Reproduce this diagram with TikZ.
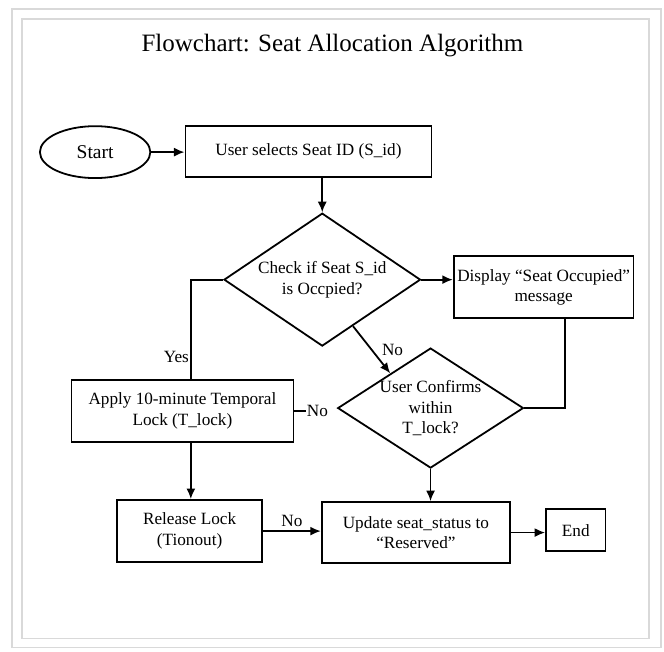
\documentclass[tikz,border=0pt]{standalone}
\usepackage{fontspec}
\setmainfont{Liberation Serif}
\usepackage{tikz}
\usetikzlibrary{arrows.meta}
\usetikzlibrary{shapes}
\usetikzlibrary{calc}
\newcommand{\flowfont}{\fontsize{16.3}{19.4}\selectfont}
\newcommand{\headfont}{\fontsize{23.7}{28}\selectfont}

\begin{document}
\begin{tikzpicture}[scale = 1,
  box/.style = {rectangle, line width=1.7pt, draw, align=center, font=\flowfont},
  decision/.style = {diamond, line width=1.7pt, draw, align=center, inner sep=-0.2cm, font=\flowfont},
  arr/.style = {line width=1.7pt, -{Latex[length=10pt, width=8.5pt]}}]

\useasboundingbox (0,0) rectangle (22.13,-21.73);
\draw[gray!30, line width=1.2pt] (0.40,-0.30) rectangle (22.03,-21.57);
\draw[gray!30, line width=1.2pt] (0.73,-0.63) rectangle (21.63,-21.27);

\node[font=\headfont] (title) at (11.08,-1.53) {Flowchart: Seat Allocation Algorithm};

\node[ellipse, minimum width=3.68cm, minimum height=1.73cm, line width=1.7pt, draw, font=\fontsize{18.5}{22}\selectfont] (start) at (3.17,-5.07) {Start};
\node[box, minimum width=8.2cm, minimum height=1.7cm] (sel) at (10.28,-5.05) {User selects Seat ID (S\_id)};
\node[decision, shape aspect=1.47, minimum width=6.55cm, minimum height=4.43cm] (chk) at (10.74,-9.32) {Check if Seat S\_id\\is Occpied?};
\node[box, minimum width=5.89cm, minimum height=2.07cm] (disp) at (18.12,-9.57) {Display “Seat Occupied”\\message};
\node[box, minimum width=7.4cm, minimum height=2.07cm] (apply) at (6.08,-13.70) {Apply 10-minute Temporal\\Lock (T\_lock)};
\node[decision, shape aspect=1.53, minimum width=6.19cm, minimum height=4cm] (conf) at (14.35,-13.60) {User Confirms\\within\\T\_lock?};
\node[box, minimum width=4.83cm, minimum height=2.07cm] (rel) at (6.32,-17.70) {Release Lock\\(Tionout)};
\node[box, minimum width=6.27cm, minimum height=2.03cm] (upd) at (13.86,-17.75) {Update seat\_status to\\“Reserved”};
\node[box, minimum width=1.98cm, minimum height=1.4cm] (endn) at (19.19,-17.67) {End};

\draw[arr] (start.east) -- (start.east -| sel.west);
\draw[arr] (sel.south -| chk.north) -- (chk.north);
\draw[arr] (chk.east) -- (chk.east -| disp.west);
\draw[line width=1.7pt] (chk.west) -| node[pos=0.89, left, inner sep=1pt, font=\flowfont] {Yes} ([xshift=0.28cm]apply.north);
\draw[arr] ($(chk.south)!0.31!(chk.east)$) -- node[midway, right=9pt, inner sep=0pt, font=\flowfont] {No} ($(conf.north)!0.43!(conf.west)$);
\draw[line width=1.7pt] ([xshift=0.71cm]disp.south) |- (conf.east);
\draw[line width=1.7pt] (apply.east) -- ++(0.39,0) node[right, inner sep=0pt, font=\flowfont] {No};
\draw[arr] ([xshift=0.28cm]apply.south) -- ([xshift=0.28cm]apply.south |- rel.north);
\draw[arr] (rel.east) -- node[above, font=\flowfont] {No} (rel.east -| upd.west);
\draw[arr] (conf.south) -- (conf.south |- upd.north);
\draw[arr] (upd.east) -- (upd.east -| endn.west);
\end{tikzpicture}
\end{document}
